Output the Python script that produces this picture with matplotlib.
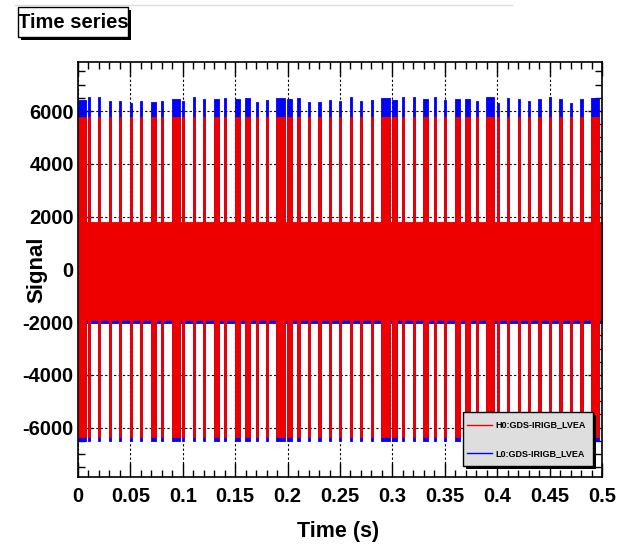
import matplotlib
matplotlib.use("Agg")
import matplotlib.pyplot as plt
from matplotlib.patches import Rectangle
from matplotlib.lines import Line2D
from matplotlib.ticker import MultipleLocator, AutoMinorLocator
import numpy as np

plt.rcParams['font.family'] = ['Liberation Sans', 'DejaVu Sans']
plt.rcParams['font.weight'] = 'bold'
plt.rcParams['axes.unicode_minus'] = False

# IRIG-B frame seen in the window: start of every 10 ms bit (ms)
bit_start_ms = [-0.6, 9.4, 19.4, 29.4, 39.4, 49.4, 59.4, 69.4, 79.4, 89.4,
                99.4, 109.4, 119.4, 129.4, 139.4, 149.4, 159.4, 169.4, 179.4, 189.4,
                199.4, 209.4, 219.4, 229.4, 239.4, 249.4, 259.4, 269.4, 279.4, 289.4,
                299.4, 309.4, 319.4, 329.4, 339.4, 349.4, 359.4, 369.4, 379.4, 389.4,
                399.4, 409.4, 419.4, 429.4, 439.4, 449.4, 459.4, 469.4, 479.4, 489.4]
# length of the high-amplitude part of each bit (2 = zero, 5 = one, 8 = marker)
high_ms = [8, 2, 2, 2, 2, 2, 2, 5, 2, 8,
           2, 2, 2, 5, 2, 5, 5, 2, 2, 8,
           5, 2, 2, 2, 2, 2, 2, 2, 2, 8,
           5, 2, 2, 5, 2, 2, 5, 5, 2, 8,
           2, 2, 2, 2, 2, 2, 2, 2, 2, 8]

# H0 envelope levels
h0_high = (5780, -6340)
h0_low = (1780, -1920)
# L0 envelope levels (peak of every high burst)
l0_peak = [6420, 6520, 6540, 6400, 6400, 6320, 6380, 6350, 6400, 6450,
           6380, 6540, 6440, 6450, 6500, 6460, 6500, 6330, 6430, 6500,
           6460, 6500, 6350, 6360, 6430, 6400, 6530, 6380, 6420, 6500,
           6430, 6520, 6520, 6440, 6520, 6430, 6460, 6450, 6400, 6520,
           6320, 6500, 6450, 6380, 6440, 6530, 6450, 6300, 6470, 6480]
l0_trough = -6500
l0_low = (1750, -2020)

W, H = 633, 545


def fx(px):
    return px / W


def fy(py):
    return 1 - py / H


def envelope(peaks, trough, low):
    t, top, bot = [], [], []
    for s, w, p in zip(bit_start_ms, high_ms, peaks):
        t += [s / 1000, (s + w) / 1000]
        top += [p, low[0]]
        bot += [trough, low[1]]
    t.append(0.5)
    top.append(low[0])
    bot.append(low[1])
    return np.array(t), np.array(top), np.array(bot)


fig = plt.figure(figsize=(W / 100, H / 100), dpi=100)
ax = fig.add_axes([fx(78), fy(477), (602 - 78) / W, (477 - 62) / H])

# L0 underneath, H0 on top
t, top, bot = envelope(l0_peak, l0_trough, l0_low)
ax.fill_between(t, bot, top, step='post', facecolor='#0000ff', edgecolor='#0000ff', lw=0.6, zorder=2)
t, top, bot = envelope([h0_high[0]] * len(high_ms), h0_high[1], h0_low)
ax.fill_between(t, bot, top, step='post', facecolor='#ee0000', edgecolor='#ee0000', lw=0.6, zorder=3)

ax.set_xlim(0, 0.5)
ax.set_ylim(-7870, 7860)
ax.xaxis.set_major_locator(MultipleLocator(0.05))
ax.xaxis.set_minor_locator(AutoMinorLocator(5))
ax.yaxis.set_major_locator(MultipleLocator(2000))
ax.yaxis.set_minor_locator(AutoMinorLocator(4))
ax.set_xticks([0, 0.05, 0.1, 0.15, 0.2, 0.25, 0.3, 0.35, 0.4, 0.45, 0.5])
ax.set_xticklabels(['0', '0.05', '0.1', '0.15', '0.2', '0.25', '0.3', '0.35', '0.4', '0.45', '0.5'])
ax.set_axisbelow(True)
ax.grid(True, which='major', color='black', linestyle=(0, (2, 2)), linewidth=0.8)
ax.tick_params(which='both', direction='in', top=True, right=True, labelsize=14.5, width=1)
ax.tick_params(which='major', length=10)
ax.tick_params(which='minor', length=5)
ax.tick_params(axis='x', pad=7)
ax.tick_params(axis='y', pad=3)
for sp in ax.spines.values():
    sp.set_linewidth(1.2)
    sp.set_zorder(6)

fig.text(fx(338), fy(537.5), 'Time (s)', ha='center', va='baseline', fontsize=15.5, fontweight='bold')
fig.text(fx(37), fy(270), 'Signal', ha='center', va='center', rotation=90, fontsize=16, fontweight='bold')

# faint line at the very top
fig.add_artist(Line2D([fx(15), fx(512)], [fy(5), fy(5)], color='#dddddd', lw=1))

# title box with shadow
fig.add_artist(Rectangle((fx(20.8), fy(39.8)), 110 / W, 30 / H, facecolor='black', edgecolor='black', lw=0))
fig.add_artist(Rectangle((fx(18.3), fy(37.3)), 110 / W, 30 / H, facecolor='white', edgecolor='black', lw=1))
fig.text(fx(73.3), fy(22.5), 'Time series', ha='center', va='center', fontsize=14.5, fontweight='bold')

# legend box with shadow
fig.add_artist(Rectangle((fx(466.3), fy(468.7)), 130 / W, 54 / H, facecolor='black', edgecolor='black', lw=0))
fig.add_artist(Rectangle((fx(463.3), fy(465.7)), 130 / W, 54 / H, facecolor='#dedede', edgecolor='black', lw=1))
fig.add_artist(Line2D([fx(467), fx(492)], [fy(425), fy(425)], color='#ee0000', lw=1))
fig.add_artist(Line2D([fx(467), fx(492)], [fy(453.3), fy(453.3)], color='#0000ff', lw=1))
fig.text(fx(495), fy(425), 'H0:GDS-IRIGB_LVEA', ha='left', va='center', fontsize=6.5, fontweight='bold')
fig.text(fx(495), fy(453.3), 'L0:GDS-IRIGB_LVEA', ha='left', va='center', fontsize=6.5, fontweight='bold')

fig.savefig('out.png', dpi=100)
